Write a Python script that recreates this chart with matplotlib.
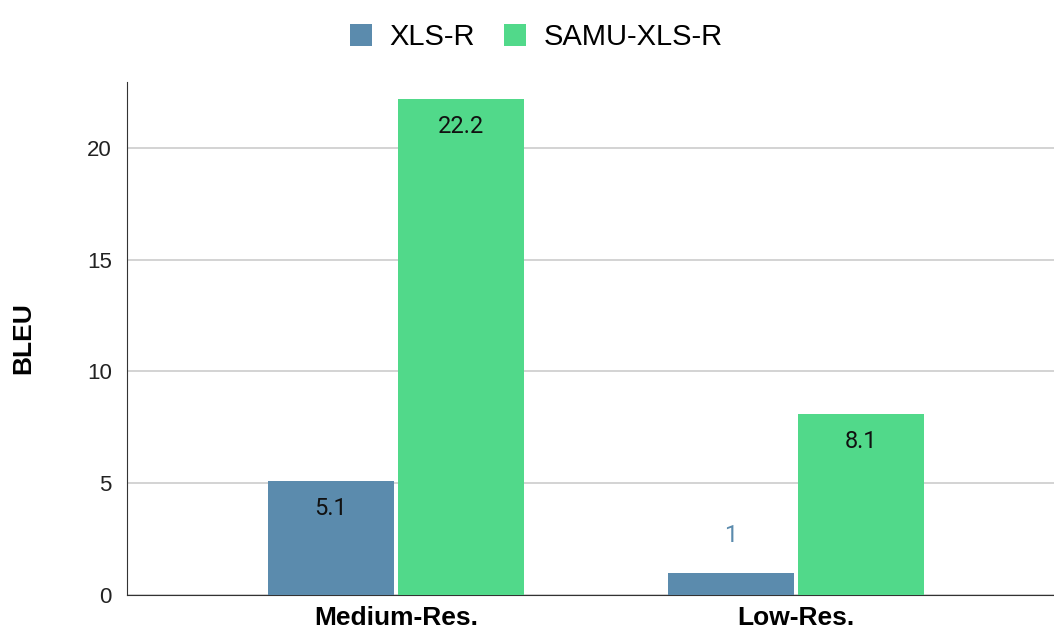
import numpy as np
import matplotlib
matplotlib.use("Agg")
import matplotlib.pyplot as plt

# data
groups = ["Medium-Res.", "Low-Res."]
xls_r = [5.1, 1.0]
samu_xls_r = [22.2, 8.1]
xls_labels = ["5.1", "1"]
samu_labels = ["22.2", "8.1"]

blue = "#5b8bad"
green = "#51d98a"

plt.rcParams["font.family"] = ["Liberation Sans", "DejaVu Sans"]

fig = plt.figure(figsize=(10.54, 6.34), dpi=100)
ax = fig.add_axes([0.1205, 0.0615, 0.8795, 0.8092])

x = np.arange(len(groups))
w = 0.315
off = 0.1625

b1 = ax.bar(x - off, xls_r, w, color=blue, label="XLS-R", zorder=3)
b2 = ax.bar(x + off, samu_xls_r, w, color=green, label="SAMU-XLS-R", zorder=3)

# value labels: inside the bar top, or above it when the bar is too short
for bars, labels in ((b1, xls_labels), (b2, samu_labels)):
    for rect, lab in zip(bars, labels):
        h = rect.get_height()
        cx = rect.get_x() + rect.get_width() / 2
        if h > 3:
            ax.text(cx, h - 1.25, lab, ha="center", va="center", fontsize=17,
                    family=["Roboto", "DejaVu Sans"], color="#111111", zorder=4)
        else:
            ax.text(cx, h + 1.65, lab, ha="center", va="center", fontsize=17,
                    family=["Roboto", "DejaVu Sans"], color=blue, zorder=4)

ax.set_xlim(-0.6725, 1.645)
ax.set_ylim(0, 22.95)
ax.set_yticks([0, 5, 10, 15, 20])
ax.set_xticks(x)
ax.set_xticklabels(groups, fontsize=19, fontweight="bold")
ax.tick_params(axis="y", labelsize=16, length=0, pad=11, colors="#222222")
ax.tick_params(axis="x", length=0, pad=8)
ax.set_ylabel("BLEU", fontsize=19, fontweight="bold", labelpad=37)

ax.grid(axis="y", color="#cccccc", linewidth=1.2, zorder=0)
for s in ("top", "right"):
    ax.spines[s].set_visible(False)
ax.spines["left"].set_color("#333333")
ax.spines["bottom"].set_color("#333333")

fig.legend(loc="upper center", bbox_to_anchor=(0.509, 1.005), ncol=2, frameon=False,
           fontsize=21, handlelength=0.75, handleheight=0.75, columnspacing=1.0,
           handletextpad=0.6)

fig.savefig("out.png", dpi=100)
